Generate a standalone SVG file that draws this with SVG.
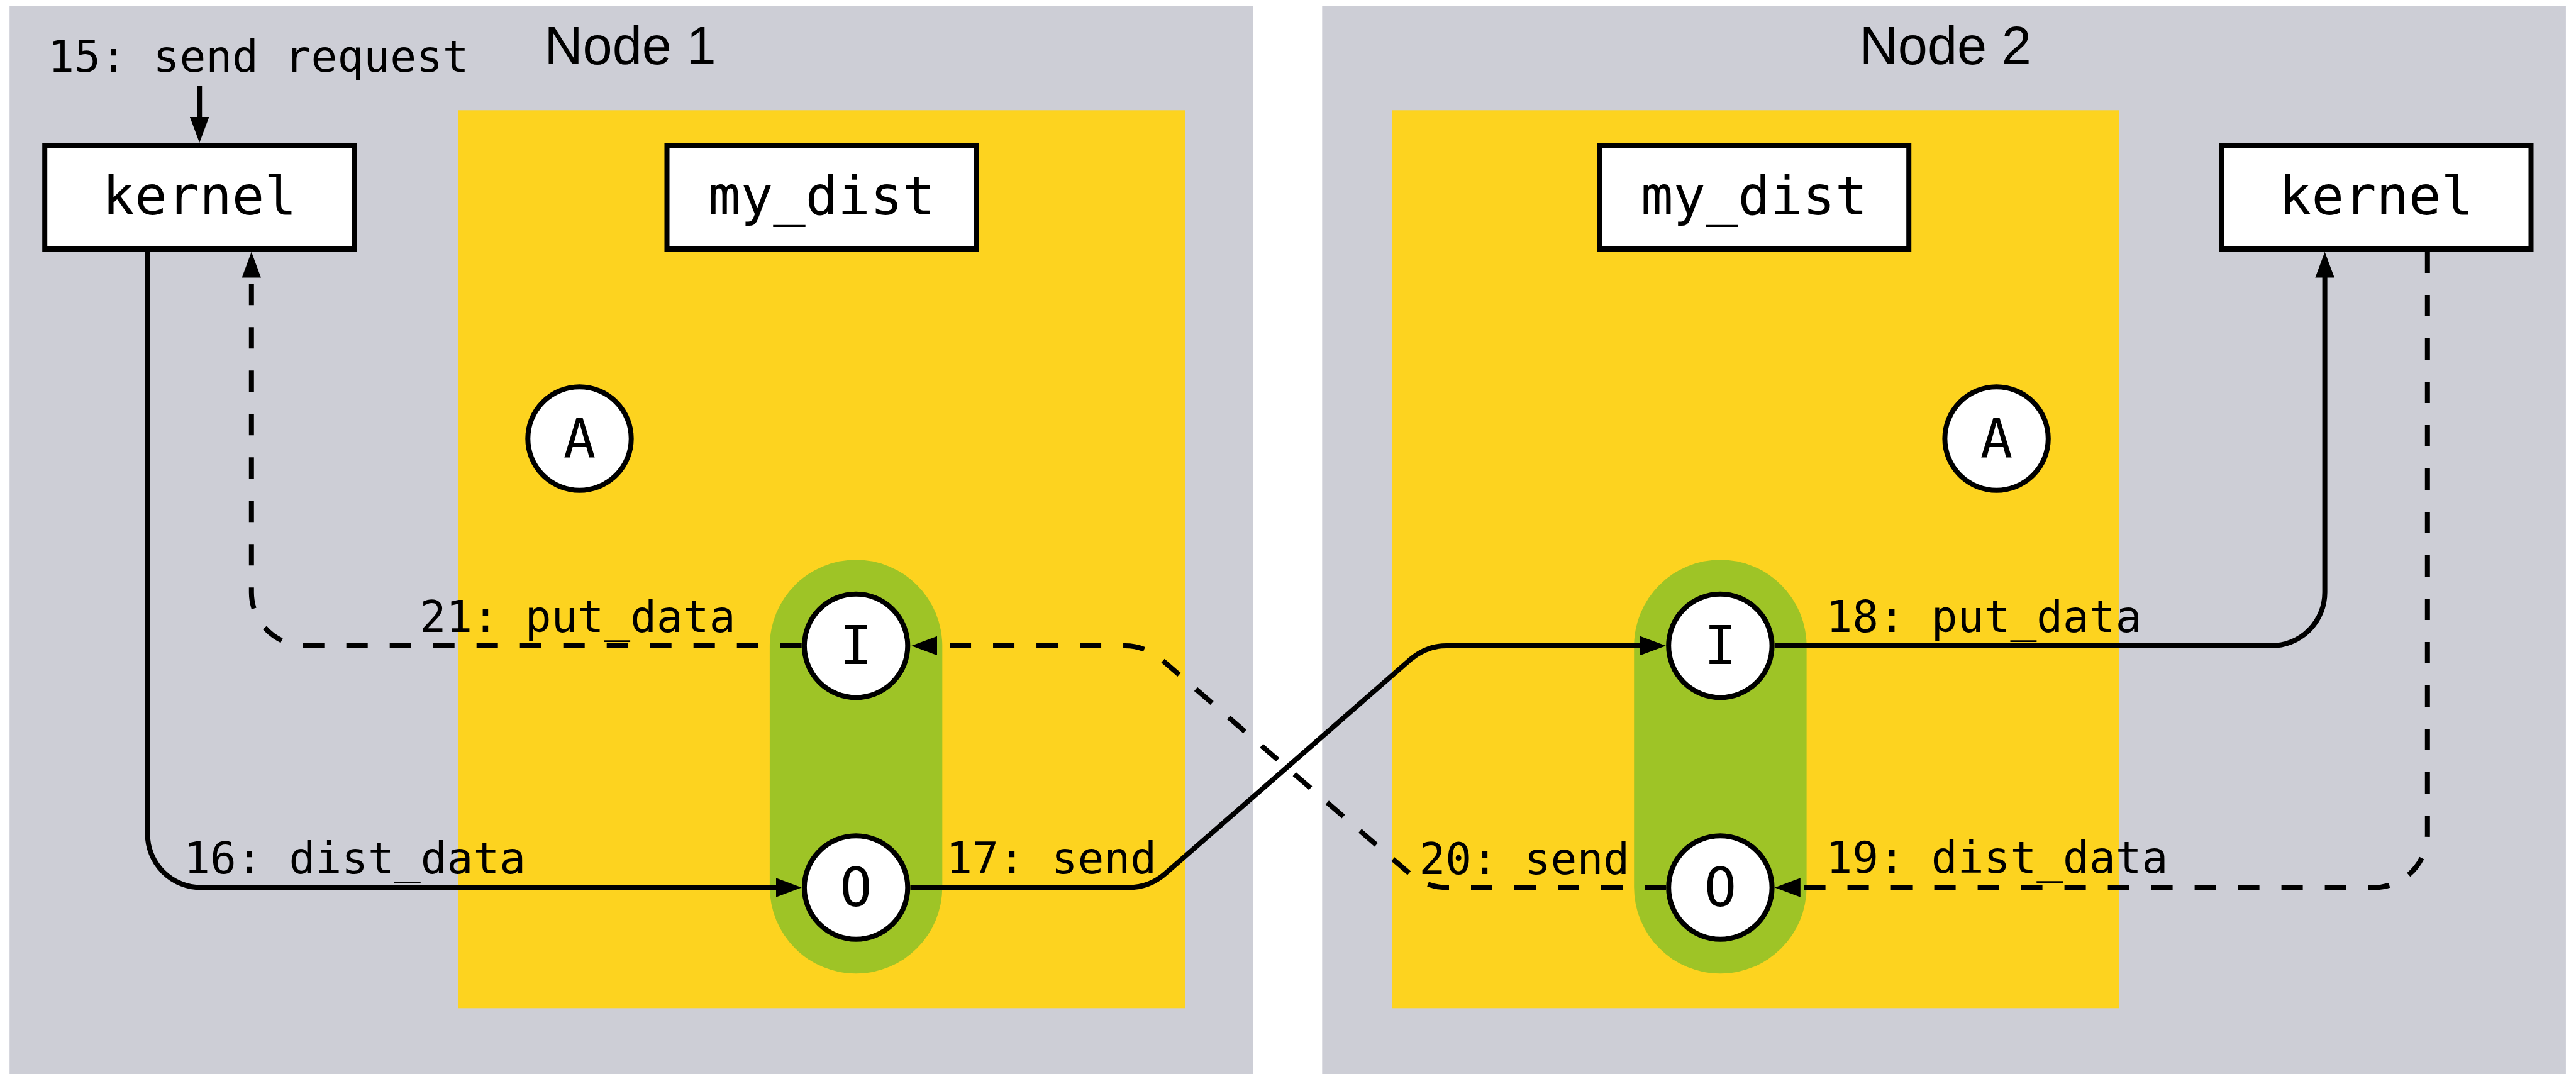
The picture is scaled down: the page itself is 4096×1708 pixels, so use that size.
<svg xmlns="http://www.w3.org/2000/svg" width="4096" height="1708" viewBox="0 0 4096 1708">
  <defs>
    <style>
      .panel { fill: #cdced6; }
      .proc { fill: #fdd31f; }
      .pill { fill: #9ec426; }
      .box { fill: #ffffff; stroke: #000000; stroke-width: 8; }
      .port { fill: #ffffff; stroke: #000000; stroke-width: 8; }
      .title { font-family: "Liberation Sans", Arial, sans-serif; font-size: 84.7px; fill: #000000; text-anchor: middle; }
      .name { font-family: "DejaVu Sans Mono", "Liberation Mono", monospace; font-size: 85.5px; fill: #000000; text-anchor: middle; }
      .label { font-family: "DejaVu Sans Mono", "Liberation Mono", monospace; font-size: 69.5px; fill: #000000; }
      .wire { fill: none; stroke: #000000; stroke-width: 8; marker-end: url(#head); }
      .dashed { stroke-dasharray: 34 35; }
    </style>
    <marker id="head" markerUnits="userSpaceOnUse" viewBox="0 0 41 30.5" markerWidth="41" markerHeight="30.5" refX="21" refY="15.25" orient="auto">
      <path d="M0,0 L41,15.25 L0,30.5 z" fill="#000000"/>
    </marker>
  </defs>

  <!-- machine panels -->
  <g id="node1">
    <rect class="panel" x="15.2" y="9.7" width="1977.6" height="1710"/>
    <text class="title" x="1002" y="101.6">Node 1</text>
  </g>
  <g id="node2">
    <rect class="panel" x="2102.3" y="9.7" width="1977.6" height="1710"/>
    <text class="title" x="3093.2" y="101.6">Node 2</text>
  </g>

  <!-- distribution process areas -->
  <g id="my_dist_area_1">
    <rect class="proc" x="728.4" y="175.3" width="1156.2" height="1428"/>
    <rect class="pill" x="1223.9" y="890.2" width="274.4" height="658.1" rx="137.2" ry="137.2"/>
  </g>
  <g id="my_dist_area_2">
    <rect class="proc" x="2213.2" y="175.3" width="1156.2" height="1428"/>
    <rect class="pill" x="2598.2" y="890.2" width="274.4" height="658.1" rx="137.2" ry="137.2"/>
  </g>

  <!-- process boxes -->
  <g id="kernel1">
    <rect class="box" x="71.2" y="231" width="492" height="165"/>
    <text class="name" x="317.2" y="341.3">kernel</text>
  </g>
  <g id="my_dist1">
    <rect class="box" x="1060.5" y="231" width="492" height="165"/>
    <text class="name" x="1306.5" y="341.3">my_dist</text>
  </g>
  <g id="my_dist2">
    <rect class="box" x="2543.2" y="231" width="492" height="165"/>
    <text class="name" x="2789.2" y="341.3">my_dist</text>
  </g>
  <g id="kernel2">
    <rect class="box" x="3532.5" y="231" width="492" height="165"/>
    <text class="name" x="3778.5" y="341.3">kernel</text>
  </g>

  <!-- ports -->
  <g id="a1">
    <circle class="port" cx="921.5" cy="697.5" r="82.2"/>
    <text class="name" x="921.5" y="726.7">A</text>
  </g>
  <g id="i1">
    <circle class="port" cx="1361.1" cy="1027" r="82.2"/>
    <text class="name" x="1361.1" y="1056.2">I</text>
  </g>
  <g id="o1">
    <circle class="port" cx="1361.1" cy="1411.5" r="82.2"/>
    <text class="name" x="1361.1" y="1440.7">O</text>
  </g>
  <g id="a2">
    <circle class="port" cx="3174.6" cy="697.5" r="82.2"/>
    <text class="name" x="3174.6" y="726.7">A</text>
  </g>
  <g id="i2">
    <circle class="port" cx="2735.4" cy="1027" r="82.2"/>
    <text class="name" x="2735.4" y="1056.2">I</text>
  </g>
  <g id="o2">
    <circle class="port" cx="2735.4" cy="1411.5" r="82.2"/>
    <text class="name" x="2735.4" y="1440.7">O</text>
  </g>

  <!-- message flow -->
  <g id="connectors">
    <path class="wire" d="M317.2,137 V207"/>
    <path class="wire" d="M234.6,400 V1326.5 A85,85 0 0 0 319.6,1411.5 H1254.7"/>
    <path class="wire" d="M1447.5,1411.5 H1794.8 Q1827.8,1411.5 1853.2,1389.1 L2242.9,1048.6 Q2268.3,1027 2299.6,1027 H2629"/>
    <path class="wire" d="M2821.8,1027 H3611.6 A85,85 0 0 0 3696.6,942 V420.6"/>
    <path class="wire dashed" d="M3859.8,400 V1326.5 A85,85 0 0 1 3774.8,1411.5 H2841.8"/>
    <path class="wire dashed" d="M2649,1411.5 H2301.3 Q2267.4,1411.5 2241.2,1389.1 L1851.5,1052.8 Q1822.7,1027 1788.9,1027 H1469.2"/>
    <path class="wire dashed" d="M1274.7,1027 H484.8 A85,85 0 0 1 399.8,942 V420.6"/>
  </g>

  <!-- message labels -->
  <g id="labels">
    <text class="label" x="76.2" y="113.5">15: send request</text>
    <text class="label" x="292.2" y="1389.1">16: dist_data</text>
    <text class="label" x="1504.3" y="1389.1">17: send</text>
    <text class="label" x="2903.5" y="1004.5">18: put_data</text>
    <text class="label" x="2903.5" y="1388.2">19: dist_data</text>
    <text class="label" x="2256.4" y="1390">20: send</text>
    <text class="label" x="667.4" y="1005.4">21: put_data</text>
  </g>
</svg>
